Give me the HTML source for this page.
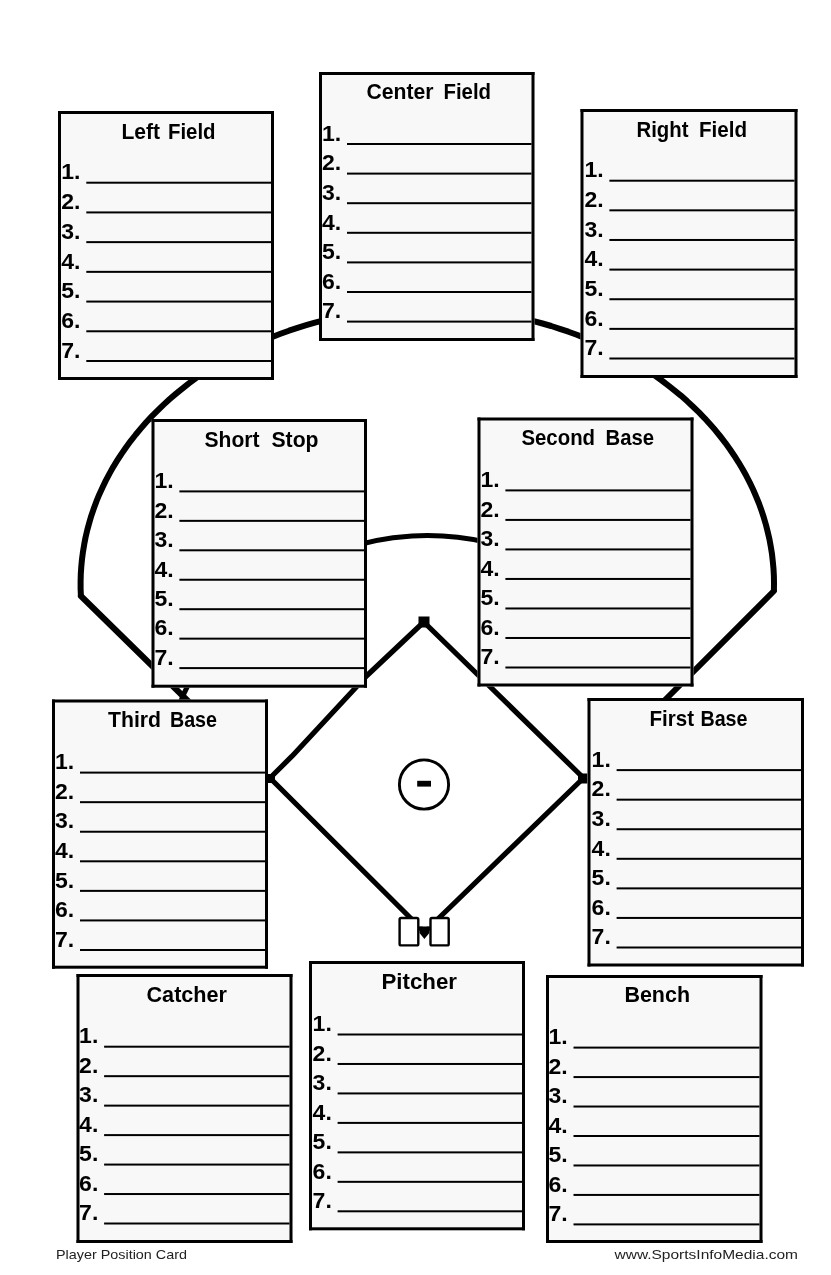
<!DOCTYPE html>
<html><head><meta charset="utf-8"><style>
html,body{margin:0;padding:0;background:#fff;}
body{width:831px;height:1275px;overflow:hidden;}
svg{display:block;filter:grayscale(100%);}
.t{font-family:"Liberation Sans",sans-serif;font-weight:bold;font-size:22.0px;fill:#000;}
.n{font-family:"Liberation Sans",sans-serif;font-weight:bold;font-size:21.8px;fill:#000;}
.f{font-family:"Liberation Sans",sans-serif;font-size:13px;fill:#222;}
</style></head><body>
<svg width="831" height="1275" viewBox="0 0 831 1275">
<path d="M80.9 596.0 L80.6 588.6 L80.6 581.2 L80.8 573.8 L81.3 566.5 L82.0 559.1 L83.0 551.7 L84.2 544.4 L85.6 537.1 L87.3 529.9 L89.3 522.6 L91.4 515.4 L93.9 508.3 L96.5 501.2 L99.4 494.2 L102.6 487.3 L105.9 480.4 L109.5 473.6 L113.3 466.8 L117.4 460.2 L121.7 453.6 L126.1 447.2 L130.8 440.8 L135.8 434.5 L140.9 428.4 L146.2 422.3 L151.7 416.4 L157.5 410.6 L163.4 404.9 L169.5 399.3 L175.8 393.9 L182.3 388.6 L188.9 383.4 L195.7 378.4 L202.7 373.6 L209.9 368.9 L217.2 364.3 L224.6 359.9 L232.2 355.7 L240.0 351.6 L247.8 347.7 L255.8 343.9 L263.9 340.4 L272.2 337.0 L280.5 333.8 L289.0 330.7 L297.5 327.9 L306.2 325.2 L314.9 322.7 L323.7 320.4 L332.6 318.3 L341.6 316.4 L350.6 314.6 L359.7 313.1 L368.8 311.8 L378.0 310.6 L387.1 309.7 L396.4 308.9 L405.6 308.3 L414.9 308.0 L424.2 307.8 L433.4 307.8 L442.7 308.1 L452.0 308.5 L461.2 309.1 L470.4 309.9 L479.6 311.0 L488.8 312.2 L497.9 313.6 L506.9 315.2 L515.9 317.0 L524.9 319.0 L533.7 321.1 L542.5 323.5 L551.2 326.0 L559.8 328.8 L568.4 331.7 L576.8 334.8 L585.1 338.1 L593.3 341.5 L601.4 345.1 L609.3 348.9 L617.2 352.9 L624.9 357.0 L632.4 361.3 L639.8 365.8 L647.1 370.4 L654.2 375.1 L661.1 380.0 L667.8 385.1 L674.4 390.3 L680.9 395.6 L687.1 401.1 L693.1 406.7 L699.0 412.4 L704.7 418.3 L710.1 424.3 L715.4 430.3 L720.4 436.5 L725.3 442.8 L729.9 449.2 L734.3 455.7 L738.5 462.3 L742.5 469.0 L746.3 475.8 L749.8 482.6 L753.1 489.5 L756.1 496.5 L759.0 503.5 L761.5 510.6 L763.9 517.8 L766.0 525.0 L767.8 532.2 L769.5 539.5 L770.8 546.8 L772.0 554.1 L772.8 561.5 L773.5 568.8 L773.9 576.2 L774.0 583.6 L773.9 591.0" fill="none" stroke="#000" stroke-width="6" stroke-linejoin="round"/>
<path d="M80.9 596 L190 703" fill="none" stroke="#000" stroke-width="6" stroke-linecap="round"/>
<path d="M773.9 591 L663 702" fill="none" stroke="#000" stroke-width="6" stroke-linecap="round"/>
<path d="M176.5 712.0 A266.4 266.4 0 0 1 666.1 684.0" fill="none" stroke="#000" stroke-width="5"/>
<path d="M423.8 622 L367 675.5 L292 756.2 L270 778 L424.5 932 L583.5 778 Z" fill="none" stroke="#000" stroke-width="5.2" stroke-linejoin="round"/>
<rect x="418.5" y="616.5" width="11" height="11" fill="#000"/>
<rect x="267" y="774" width="8" height="9" fill="#000"/>
<rect x="578" y="773.5" width="9.5" height="10" fill="#000"/>
<circle cx="424" cy="784.5" r="24.6" fill="none" stroke="#000" stroke-width="2.9"/>
<rect x="417.2" y="780.8" width="13.8" height="5.8" fill="#000"/>
<rect x="418" y="915" width="13" height="11.6" fill="#fff"/>
<rect x="399.6" y="918" width="18.7" height="27.4" rx="1.5" fill="#fff" stroke="#000" stroke-width="2.4"/>
<rect x="430.5" y="918" width="18.2" height="27.4" rx="1.5" fill="#fff" stroke="#000" stroke-width="2.4"/>
<path d="M419.5 926.6 L429.3 926.6 L429.3 933 L424.4 939 L419.5 933 Z" fill="#000"/>
<rect x="58" y="111" width="216" height="269" fill="#f8f8f8"/>
<rect x="58" y="111" width="216" height="3.0" fill="#000"/>
<rect x="58" y="377.0" width="216" height="3.0" fill="#000"/>
<rect x="58" y="111" width="3.0" height="269" fill="#000"/>
<rect x="271.0" y="111" width="3.0" height="269" fill="#000"/>
<rect x="86.3" y="181.70" width="184.7" height="2.0" fill="#000"/>
<text x="61.3" y="179.4" class="n" textLength="19.2" lengthAdjust="spacingAndGlyphs">1.</text>
<rect x="86.3" y="211.42" width="184.7" height="2.0" fill="#000"/>
<text x="61.3" y="209.1" class="n" textLength="19.2" lengthAdjust="spacingAndGlyphs">2.</text>
<rect x="86.3" y="241.13" width="184.7" height="2.0" fill="#000"/>
<text x="61.3" y="238.8" class="n" textLength="19.2" lengthAdjust="spacingAndGlyphs">3.</text>
<rect x="86.3" y="270.85" width="184.7" height="2.0" fill="#000"/>
<text x="61.3" y="268.6" class="n" textLength="19.2" lengthAdjust="spacingAndGlyphs">4.</text>
<rect x="86.3" y="300.57" width="184.7" height="2.0" fill="#000"/>
<text x="61.3" y="298.3" class="n" textLength="19.2" lengthAdjust="spacingAndGlyphs">5.</text>
<rect x="86.3" y="330.28" width="184.7" height="2.0" fill="#000"/>
<text x="61.3" y="328.0" class="n" textLength="19.2" lengthAdjust="spacingAndGlyphs">6.</text>
<rect x="86.3" y="360.00" width="184.7" height="2.0" fill="#000"/>
<text x="61.3" y="357.7" class="n" textLength="19.2" lengthAdjust="spacingAndGlyphs">7.</text>
<text x="121.46" y="139" class="t" textLength="38.56" lengthAdjust="spacingAndGlyphs">Left</text>
<text x="167.97" y="139" class="t" textLength="47.57" lengthAdjust="spacingAndGlyphs">Field</text>
<rect x="319" y="72" width="215.5" height="269" fill="#f8f8f8"/>
<rect x="319" y="72" width="215.5" height="3.0" fill="#000"/>
<rect x="319" y="338.0" width="215.5" height="3.0" fill="#000"/>
<rect x="319" y="72" width="3.0" height="269" fill="#000"/>
<rect x="531.5" y="72" width="3.0" height="269" fill="#000"/>
<rect x="347" y="143.00" width="184.5" height="2.0" fill="#000"/>
<text x="322.0" y="140.7" class="n" textLength="19.2" lengthAdjust="spacingAndGlyphs">1.</text>
<rect x="347" y="172.60" width="184.5" height="2.0" fill="#000"/>
<text x="322.0" y="170.3" class="n" textLength="19.2" lengthAdjust="spacingAndGlyphs">2.</text>
<rect x="347" y="202.20" width="184.5" height="2.0" fill="#000"/>
<text x="322.0" y="199.9" class="n" textLength="19.2" lengthAdjust="spacingAndGlyphs">3.</text>
<rect x="347" y="231.80" width="184.5" height="2.0" fill="#000"/>
<text x="322.0" y="229.5" class="n" textLength="19.2" lengthAdjust="spacingAndGlyphs">4.</text>
<rect x="347" y="261.40" width="184.5" height="2.0" fill="#000"/>
<text x="322.0" y="259.1" class="n" textLength="19.2" lengthAdjust="spacingAndGlyphs">5.</text>
<rect x="347" y="291.00" width="184.5" height="2.0" fill="#000"/>
<text x="322.0" y="288.7" class="n" textLength="19.2" lengthAdjust="spacingAndGlyphs">6.</text>
<rect x="347" y="320.60" width="184.5" height="2.0" fill="#000"/>
<text x="322.0" y="318.3" class="n" textLength="19.2" lengthAdjust="spacingAndGlyphs">7.</text>
<text x="366.49" y="98.6" class="t" textLength="67.02" lengthAdjust="spacingAndGlyphs">Center</text>
<text x="443.45" y="98.6" class="t" textLength="47.58" lengthAdjust="spacingAndGlyphs">Field</text>
<rect x="580.5" y="109" width="217.0" height="269" fill="#f8f8f8"/>
<rect x="580.5" y="109" width="217.0" height="3.0" fill="#000"/>
<rect x="580.5" y="375.0" width="217.0" height="3.0" fill="#000"/>
<rect x="580.5" y="109" width="3.0" height="269" fill="#000"/>
<rect x="794.5" y="109" width="3.0" height="269" fill="#000"/>
<rect x="609.4" y="179.70" width="185.1" height="2.0" fill="#000"/>
<text x="584.4" y="177.4" class="n" textLength="19.2" lengthAdjust="spacingAndGlyphs">1.</text>
<rect x="609.4" y="209.33" width="185.1" height="2.0" fill="#000"/>
<text x="584.4" y="207.0" class="n" textLength="19.2" lengthAdjust="spacingAndGlyphs">2.</text>
<rect x="609.4" y="238.97" width="185.1" height="2.0" fill="#000"/>
<text x="584.4" y="236.7" class="n" textLength="19.2" lengthAdjust="spacingAndGlyphs">3.</text>
<rect x="609.4" y="268.60" width="185.1" height="2.0" fill="#000"/>
<text x="584.4" y="266.3" class="n" textLength="19.2" lengthAdjust="spacingAndGlyphs">4.</text>
<rect x="609.4" y="298.23" width="185.1" height="2.0" fill="#000"/>
<text x="584.4" y="295.9" class="n" textLength="19.2" lengthAdjust="spacingAndGlyphs">5.</text>
<rect x="609.4" y="327.87" width="185.1" height="2.0" fill="#000"/>
<text x="584.4" y="325.6" class="n" textLength="19.2" lengthAdjust="spacingAndGlyphs">6.</text>
<rect x="609.4" y="357.50" width="185.1" height="2.0" fill="#000"/>
<text x="584.4" y="355.2" class="n" textLength="19.2" lengthAdjust="spacingAndGlyphs">7.</text>
<text x="636.49" y="136.5" class="t" textLength="52.03" lengthAdjust="spacingAndGlyphs">Right</text>
<text x="698.96" y="136.5" class="t" textLength="48.10" lengthAdjust="spacingAndGlyphs">Field</text>
<rect x="151.5" y="419" width="215.5" height="268.70000000000005" fill="#f8f8f8"/>
<rect x="151.5" y="419" width="215.5" height="3.0" fill="#000"/>
<rect x="151.5" y="684.7" width="215.5" height="3.0" fill="#000"/>
<rect x="151.5" y="419" width="3.0" height="268.70000000000005" fill="#000"/>
<rect x="364.0" y="419" width="3.0" height="268.70000000000005" fill="#000"/>
<rect x="179.4" y="490.40" width="184.6" height="2.0" fill="#000"/>
<text x="154.4" y="488.1" class="n" textLength="19.2" lengthAdjust="spacingAndGlyphs">1.</text>
<rect x="179.4" y="519.85" width="184.6" height="2.0" fill="#000"/>
<text x="154.4" y="517.6" class="n" textLength="19.2" lengthAdjust="spacingAndGlyphs">2.</text>
<rect x="179.4" y="549.30" width="184.6" height="2.0" fill="#000"/>
<text x="154.4" y="547.0" class="n" textLength="19.2" lengthAdjust="spacingAndGlyphs">3.</text>
<rect x="179.4" y="578.75" width="184.6" height="2.0" fill="#000"/>
<text x="154.4" y="576.5" class="n" textLength="19.2" lengthAdjust="spacingAndGlyphs">4.</text>
<rect x="179.4" y="608.20" width="184.6" height="2.0" fill="#000"/>
<text x="154.4" y="605.9" class="n" textLength="19.2" lengthAdjust="spacingAndGlyphs">5.</text>
<rect x="179.4" y="637.65" width="184.6" height="2.0" fill="#000"/>
<text x="154.4" y="635.4" class="n" textLength="19.2" lengthAdjust="spacingAndGlyphs">6.</text>
<rect x="179.4" y="667.10" width="184.6" height="2.0" fill="#000"/>
<text x="154.4" y="664.8" class="n" textLength="19.2" lengthAdjust="spacingAndGlyphs">7.</text>
<text x="204.49" y="446.5" class="t" textLength="55.01" lengthAdjust="spacingAndGlyphs">Short</text>
<text x="271.46" y="446.5" class="t" textLength="47.08" lengthAdjust="spacingAndGlyphs">Stop</text>
<rect x="477.5" y="417.5" width="216.0" height="269.0" fill="#f8f8f8"/>
<rect x="477.5" y="417.5" width="216.0" height="3.0" fill="#000"/>
<rect x="477.5" y="683.5" width="216.0" height="3.0" fill="#000"/>
<rect x="477.5" y="417.5" width="3.0" height="269.0" fill="#000"/>
<rect x="690.5" y="417.5" width="3.0" height="269.0" fill="#000"/>
<rect x="505.4" y="489.40" width="185.1" height="2.0" fill="#000"/>
<text x="480.4" y="487.1" class="n" textLength="19.2" lengthAdjust="spacingAndGlyphs">1.</text>
<rect x="505.4" y="518.92" width="185.1" height="2.0" fill="#000"/>
<text x="480.4" y="516.6" class="n" textLength="19.2" lengthAdjust="spacingAndGlyphs">2.</text>
<rect x="505.4" y="548.43" width="185.1" height="2.0" fill="#000"/>
<text x="480.4" y="546.1" class="n" textLength="19.2" lengthAdjust="spacingAndGlyphs">3.</text>
<rect x="505.4" y="577.95" width="185.1" height="2.0" fill="#000"/>
<text x="480.4" y="575.7" class="n" textLength="19.2" lengthAdjust="spacingAndGlyphs">4.</text>
<rect x="505.4" y="607.47" width="185.1" height="2.0" fill="#000"/>
<text x="480.4" y="605.2" class="n" textLength="19.2" lengthAdjust="spacingAndGlyphs">5.</text>
<rect x="505.4" y="636.98" width="185.1" height="2.0" fill="#000"/>
<text x="480.4" y="634.7" class="n" textLength="19.2" lengthAdjust="spacingAndGlyphs">6.</text>
<rect x="505.4" y="666.50" width="185.1" height="2.0" fill="#000"/>
<text x="480.4" y="664.2" class="n" textLength="19.2" lengthAdjust="spacingAndGlyphs">7.</text>
<text x="521.48" y="445" class="t" textLength="73.54" lengthAdjust="spacingAndGlyphs">Second</text>
<text x="605.48" y="445" class="t" textLength="48.53" lengthAdjust="spacingAndGlyphs">Base</text>
<rect x="52" y="699.5" width="216" height="269.20000000000005" fill="#f8f8f8"/>
<rect x="52" y="699.5" width="216" height="3.0" fill="#000"/>
<rect x="52" y="965.7" width="216" height="3.0" fill="#000"/>
<rect x="52" y="699.5" width="3.0" height="269.20000000000005" fill="#000"/>
<rect x="265.0" y="699.5" width="3.0" height="269.20000000000005" fill="#000"/>
<rect x="80" y="771.60" width="185.0" height="2.0" fill="#000"/>
<text x="55.0" y="769.3" class="n" textLength="19.2" lengthAdjust="spacingAndGlyphs">1.</text>
<rect x="80" y="801.17" width="185.0" height="2.0" fill="#000"/>
<text x="55.0" y="798.9" class="n" textLength="19.2" lengthAdjust="spacingAndGlyphs">2.</text>
<rect x="80" y="830.73" width="185.0" height="2.0" fill="#000"/>
<text x="55.0" y="828.4" class="n" textLength="19.2" lengthAdjust="spacingAndGlyphs">3.</text>
<rect x="80" y="860.30" width="185.0" height="2.0" fill="#000"/>
<text x="55.0" y="858.0" class="n" textLength="19.2" lengthAdjust="spacingAndGlyphs">4.</text>
<rect x="80" y="889.87" width="185.0" height="2.0" fill="#000"/>
<text x="55.0" y="887.6" class="n" textLength="19.2" lengthAdjust="spacingAndGlyphs">5.</text>
<rect x="80" y="919.43" width="185.0" height="2.0" fill="#000"/>
<text x="55.0" y="917.1" class="n" textLength="19.2" lengthAdjust="spacingAndGlyphs">6.</text>
<rect x="80" y="949.00" width="185.0" height="2.0" fill="#000"/>
<text x="55.0" y="946.7" class="n" textLength="19.2" lengthAdjust="spacingAndGlyphs">7.</text>
<text x="108.00" y="727.2" class="t" textLength="53.01" lengthAdjust="spacingAndGlyphs">Third</text>
<text x="169.95" y="727.2" class="t" textLength="47.06" lengthAdjust="spacingAndGlyphs">Base</text>
<rect x="587.5" y="698" width="216.5" height="268.5" fill="#f8f8f8"/>
<rect x="587.5" y="698" width="216.5" height="3.0" fill="#000"/>
<rect x="587.5" y="963.5" width="216.5" height="3.0" fill="#000"/>
<rect x="587.5" y="698" width="3.0" height="268.5" fill="#000"/>
<rect x="801.0" y="698" width="3.0" height="268.5" fill="#000"/>
<rect x="616.6" y="769.10" width="184.4" height="2.0" fill="#000"/>
<text x="591.6" y="766.8" class="n" textLength="19.2" lengthAdjust="spacingAndGlyphs">1.</text>
<rect x="616.6" y="798.67" width="184.4" height="2.0" fill="#000"/>
<text x="591.6" y="796.4" class="n" textLength="19.2" lengthAdjust="spacingAndGlyphs">2.</text>
<rect x="616.6" y="828.23" width="184.4" height="2.0" fill="#000"/>
<text x="591.6" y="825.9" class="n" textLength="19.2" lengthAdjust="spacingAndGlyphs">3.</text>
<rect x="616.6" y="857.80" width="184.4" height="2.0" fill="#000"/>
<text x="591.6" y="855.5" class="n" textLength="19.2" lengthAdjust="spacingAndGlyphs">4.</text>
<rect x="616.6" y="887.37" width="184.4" height="2.0" fill="#000"/>
<text x="591.6" y="885.1" class="n" textLength="19.2" lengthAdjust="spacingAndGlyphs">5.</text>
<rect x="616.6" y="916.93" width="184.4" height="2.0" fill="#000"/>
<text x="591.6" y="914.6" class="n" textLength="19.2" lengthAdjust="spacingAndGlyphs">6.</text>
<rect x="616.6" y="946.50" width="184.4" height="2.0" fill="#000"/>
<text x="591.6" y="944.2" class="n" textLength="19.2" lengthAdjust="spacingAndGlyphs">7.</text>
<text x="649.48" y="725.5" class="t" textLength="44.52" lengthAdjust="spacingAndGlyphs">First</text>
<text x="700.47" y="725.5" class="t" textLength="47.04" lengthAdjust="spacingAndGlyphs">Base</text>
<rect x="76.5" y="974" width="216.0" height="269" fill="#f8f8f8"/>
<rect x="76.5" y="974" width="216.0" height="3.0" fill="#000"/>
<rect x="76.5" y="1240.0" width="216.0" height="3.0" fill="#000"/>
<rect x="76.5" y="974" width="3.0" height="269" fill="#000"/>
<rect x="289.5" y="974" width="3.0" height="269" fill="#000"/>
<rect x="104.1" y="1045.70" width="185.4" height="2.0" fill="#000"/>
<text x="79.1" y="1043.4" class="n" textLength="19.2" lengthAdjust="spacingAndGlyphs">1.</text>
<rect x="104.1" y="1075.17" width="185.4" height="2.0" fill="#000"/>
<text x="79.1" y="1072.9" class="n" textLength="19.2" lengthAdjust="spacingAndGlyphs">2.</text>
<rect x="104.1" y="1104.63" width="185.4" height="2.0" fill="#000"/>
<text x="79.1" y="1102.3" class="n" textLength="19.2" lengthAdjust="spacingAndGlyphs">3.</text>
<rect x="104.1" y="1134.10" width="185.4" height="2.0" fill="#000"/>
<text x="79.1" y="1131.8" class="n" textLength="19.2" lengthAdjust="spacingAndGlyphs">4.</text>
<rect x="104.1" y="1163.57" width="185.4" height="2.0" fill="#000"/>
<text x="79.1" y="1161.3" class="n" textLength="19.2" lengthAdjust="spacingAndGlyphs">5.</text>
<rect x="104.1" y="1193.03" width="185.4" height="2.0" fill="#000"/>
<text x="79.1" y="1190.7" class="n" textLength="19.2" lengthAdjust="spacingAndGlyphs">6.</text>
<rect x="104.1" y="1222.50" width="185.4" height="2.0" fill="#000"/>
<text x="79.1" y="1220.2" class="n" textLength="19.2" lengthAdjust="spacingAndGlyphs">7.</text>
<text x="146.50" y="1001.5" class="t" textLength="80.50" lengthAdjust="spacingAndGlyphs">Catcher</text>
<rect x="309" y="961" width="216" height="269.29999999999995" fill="#f8f8f8"/>
<rect x="309" y="961" width="216" height="3.0" fill="#000"/>
<rect x="309" y="1227.3" width="216" height="3.0" fill="#000"/>
<rect x="309" y="961" width="3.0" height="269.29999999999995" fill="#000"/>
<rect x="522.0" y="961" width="3.0" height="269.29999999999995" fill="#000"/>
<rect x="337.6" y="1033.50" width="184.4" height="2.0" fill="#000"/>
<text x="312.6" y="1031.2" class="n" textLength="19.2" lengthAdjust="spacingAndGlyphs">1.</text>
<rect x="337.6" y="1062.97" width="184.4" height="2.0" fill="#000"/>
<text x="312.6" y="1060.7" class="n" textLength="19.2" lengthAdjust="spacingAndGlyphs">2.</text>
<rect x="337.6" y="1092.43" width="184.4" height="2.0" fill="#000"/>
<text x="312.6" y="1090.1" class="n" textLength="19.2" lengthAdjust="spacingAndGlyphs">3.</text>
<rect x="337.6" y="1121.90" width="184.4" height="2.0" fill="#000"/>
<text x="312.6" y="1119.6" class="n" textLength="19.2" lengthAdjust="spacingAndGlyphs">4.</text>
<rect x="337.6" y="1151.37" width="184.4" height="2.0" fill="#000"/>
<text x="312.6" y="1149.1" class="n" textLength="19.2" lengthAdjust="spacingAndGlyphs">5.</text>
<rect x="337.6" y="1180.83" width="184.4" height="2.0" fill="#000"/>
<text x="312.6" y="1178.5" class="n" textLength="19.2" lengthAdjust="spacingAndGlyphs">6.</text>
<rect x="337.6" y="1210.30" width="184.4" height="2.0" fill="#000"/>
<text x="312.6" y="1208.0" class="n" textLength="19.2" lengthAdjust="spacingAndGlyphs">7.</text>
<text x="381.49" y="989" class="t" textLength="75.53" lengthAdjust="spacingAndGlyphs">Pitcher</text>
<rect x="546" y="975" width="216.5" height="268" fill="#f8f8f8"/>
<rect x="546" y="975" width="216.5" height="3.0" fill="#000"/>
<rect x="546" y="1240.0" width="216.5" height="3.0" fill="#000"/>
<rect x="546" y="975" width="3.0" height="268" fill="#000"/>
<rect x="759.5" y="975" width="3.0" height="268" fill="#000"/>
<rect x="573.5" y="1046.60" width="186.0" height="2.0" fill="#000"/>
<text x="548.5" y="1044.3" class="n" textLength="19.2" lengthAdjust="spacingAndGlyphs">1.</text>
<rect x="573.5" y="1076.07" width="186.0" height="2.0" fill="#000"/>
<text x="548.5" y="1073.8" class="n" textLength="19.2" lengthAdjust="spacingAndGlyphs">2.</text>
<rect x="573.5" y="1105.53" width="186.0" height="2.0" fill="#000"/>
<text x="548.5" y="1103.2" class="n" textLength="19.2" lengthAdjust="spacingAndGlyphs">3.</text>
<rect x="573.5" y="1135.00" width="186.0" height="2.0" fill="#000"/>
<text x="548.5" y="1132.7" class="n" textLength="19.2" lengthAdjust="spacingAndGlyphs">4.</text>
<rect x="573.5" y="1164.47" width="186.0" height="2.0" fill="#000"/>
<text x="548.5" y="1162.2" class="n" textLength="19.2" lengthAdjust="spacingAndGlyphs">5.</text>
<rect x="573.5" y="1193.93" width="186.0" height="2.0" fill="#000"/>
<text x="548.5" y="1191.6" class="n" textLength="19.2" lengthAdjust="spacingAndGlyphs">6.</text>
<rect x="573.5" y="1223.40" width="186.0" height="2.0" fill="#000"/>
<text x="548.5" y="1221.1" class="n" textLength="19.2" lengthAdjust="spacingAndGlyphs">7.</text>
<text x="624.46" y="1002.2" class="t" textLength="65.55" lengthAdjust="spacingAndGlyphs">Bench</text>
<text x="56" y="1259" class="f" textLength="131" lengthAdjust="spacingAndGlyphs">Player Position Card</text>
<text x="614.5" y="1259.2" class="f" textLength="183.5" lengthAdjust="spacingAndGlyphs">www.SportsInfoMedia.com</text>
</svg>
</body></html>
